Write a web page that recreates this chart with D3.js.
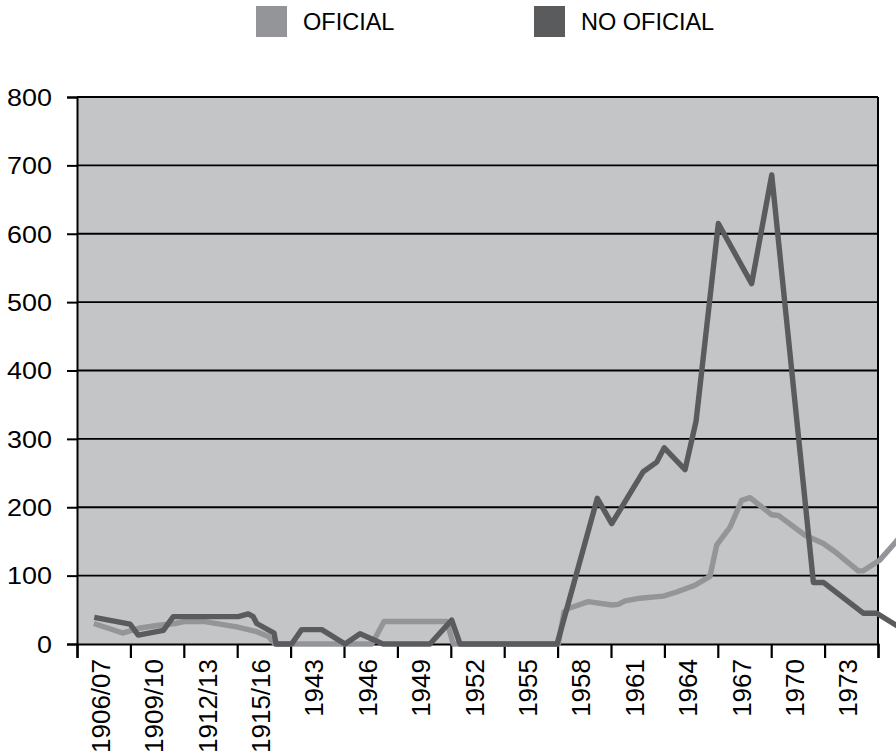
<!DOCTYPE html>
<html>
<head>
<meta charset="utf-8">
<script src="https://cdn.jsdelivr.net/npm/d3@7"></script>
<style>
  html, body { margin: 0; padding: 0; background: #ffffff; }
  svg { display: block; }
  text { font-family: "Liberation Sans", Arial, Helvetica, sans-serif; fill: #000; }
</style>
</head>
<body>
<svg id="chart" width="896" height="756"></svg>
<script>
// ---- data ----
// tick labels: one every 3 periods along the category index axis
const tickLabels = ["1906/07","1909/10","1912/13","1915/16","1943","1946","1949","1952","1955","1958","1961","1964","1967","1970","1973"];
const seriesNames = ["OFICIAL", "NO OFICIAL"];
const yTicks = [0, 100, 200, 300, 400, 500, 600, 700, 800];

// OFICIAL: positions on the period index axis and values
const oficialX = [0.95, 2.56, 3.48, 4.49, 5.5, 6.07, 7.1, 8.97, 10.1, 10.75, 11.12, 16.57, 17.25, 20.77, 21.14, 27.04, 27.36, 27.6, 28.72, 30.04, 30.41, 30.79, 31.63, 32.94, 33.69, 34.72, 35.56, 35.94, 36.69, 37.34, 37.81, 39.03, 39.4, 40.9, 41.93, 42.68, 43.89, 44.17, 45.11, 45.96, 46.5];
const oficialY = [30, 16, 23, 27, 30, 33, 33, 25, 18, 11, 0, 0, 33, 33, 0, 0, 47, 52, 62, 57, 58, 63, 67, 70, 76, 86, 99, 145, 171, 210, 214, 189, 188, 159, 147, 133, 107, 107, 123, 148, 165];

// NO OFICIAL
const noOficialX = [0.97, 2.98, 3.44, 4.85, 5.41, 9.06, 9.62, 9.9, 10.1, 11.07, 11.18, 12.06, 12.62, 13.75, 15.06, 15.9, 17.19, 19.83, 21.05, 21.52, 26.97, 29.23, 30.04, 31.81, 32.57, 32.99, 34.16, 34.78, 36.03, 37.9, 39.03, 41.37, 41.93, 44.17, 44.93, 45.86, 46.5];
const noOficialY = [39, 29, 13, 20, 40, 40, 44, 40, 30, 16, 0, 0, 21, 21, 0, 15, 0, 0, 35, 0, 0, 213, 176, 252, 266, 287, 255, 326, 615, 527, 686, 90, 90, 45, 45, 30, 20];

const colors = ["#939598", "#5a5b5d"];

// ---- layout ----
const svg = d3.select("#chart");
const mLeft = 77, mRight = 878, mTop = 97, mBottom = 644;
const nTicks = tickLabels.length; // 15 intervals, 3 periods each

const x = d3.scaleLinear().domain([0, nTicks * 3]).range([mLeft, mRight]);
const y = d3.scaleLinear().domain([0, 800]).range([mBottom, mTop]);

// plot background
svg.append("rect")
  .attr("x", mLeft).attr("y", mTop)
  .attr("width", mRight - mLeft).attr("height", mBottom - mTop)
  .attr("fill", "#c4c5c7");

// gridlines
svg.append("g").selectAll("line").data(yTicks.filter(d => d > 0)).join("line")
  .attr("x1", mLeft).attr("x2", mRight)
  .attr("y1", d => y(d)).attr("y2", d => y(d))
  .attr("stroke", "#000").attr("stroke-width", 1.8);

// y axis
const yAxis = d3.axisLeft(y).tickValues(yTicks).tickSize(10).tickFormat(d3.format("d"));
const gy = svg.append("g").attr("transform", `translate(${mLeft},0)`).call(yAxis);
gy.select(".domain").attr("stroke", "#000").attr("stroke-width", 2);
gy.selectAll(".tick line").attr("stroke", "#000").attr("stroke-width", 2);
gy.selectAll(".tick text")
  .attr("x", null).attr("dy", null)
  .style("font-size", "23px")
  .attr("text-anchor", "end")
  .attr("dominant-baseline", "central")
  .attr("transform", "translate(-25,0) scale(1.17,1)");

// right border
svg.append("line")
  .attr("x1", mRight).attr("x2", mRight).attr("y1", mTop).attr("y2", mBottom)
  .attr("stroke", "#000").attr("stroke-width", 2);

// x axis
const tickVals = d3.range(0, nTicks + 1).map(k => k * 3);
const xAxis = d3.axisBottom(x).tickValues(tickVals).tickSize(14).tickFormat("");
const gx = svg.append("g").attr("transform", `translate(0,${mBottom})`).call(xAxis);
gx.select(".domain").attr("stroke", "#000").attr("stroke-width", 2.2);
gx.selectAll(".tick line").attr("stroke", "#000").attr("stroke-width", 2.2);

// x labels, centered in each tick interval, rotated
svg.append("g").selectAll("text").data(tickLabels).join("text")
  .attr("transform", (d, i) => `translate(${x(i * 3 + 1.5) - 3},659) rotate(-90)`)
  .attr("text-anchor", "end")
  .attr("dy", "0.35em")
  .style("font-size", "26px")
  .text(d => d);

// lines
const line = d3.line().x(d => x(d[0])).y(d => y(d[1]));
const seriesData = [
  d3.zip(oficialX, oficialY),
  d3.zip(noOficialX, noOficialY)
];
svg.append("g").selectAll("path").data(seriesData).join("path")
  .attr("d", line)
  .attr("fill", "none")
  .attr("stroke", (d, i) => colors[i])
  .attr("stroke-width", 5.4)
  .attr("stroke-linejoin", "round")
  .attr("stroke-linecap", "butt");

// legend
const legendX = [256, 534];
const lg = svg.append("g").selectAll("g").data(seriesNames).join("g")
  .attr("transform", (d, i) => `translate(${legendX[i]},6)`);
lg.append("rect").attr("width", 31).attr("height", 31).attr("fill", (d, i) => colors[i]);
lg.append("text").attr("x", 47).attr("y", 23.5).style("font-size", "23.5px").text(d => d);
</script>
</body>
</html>
